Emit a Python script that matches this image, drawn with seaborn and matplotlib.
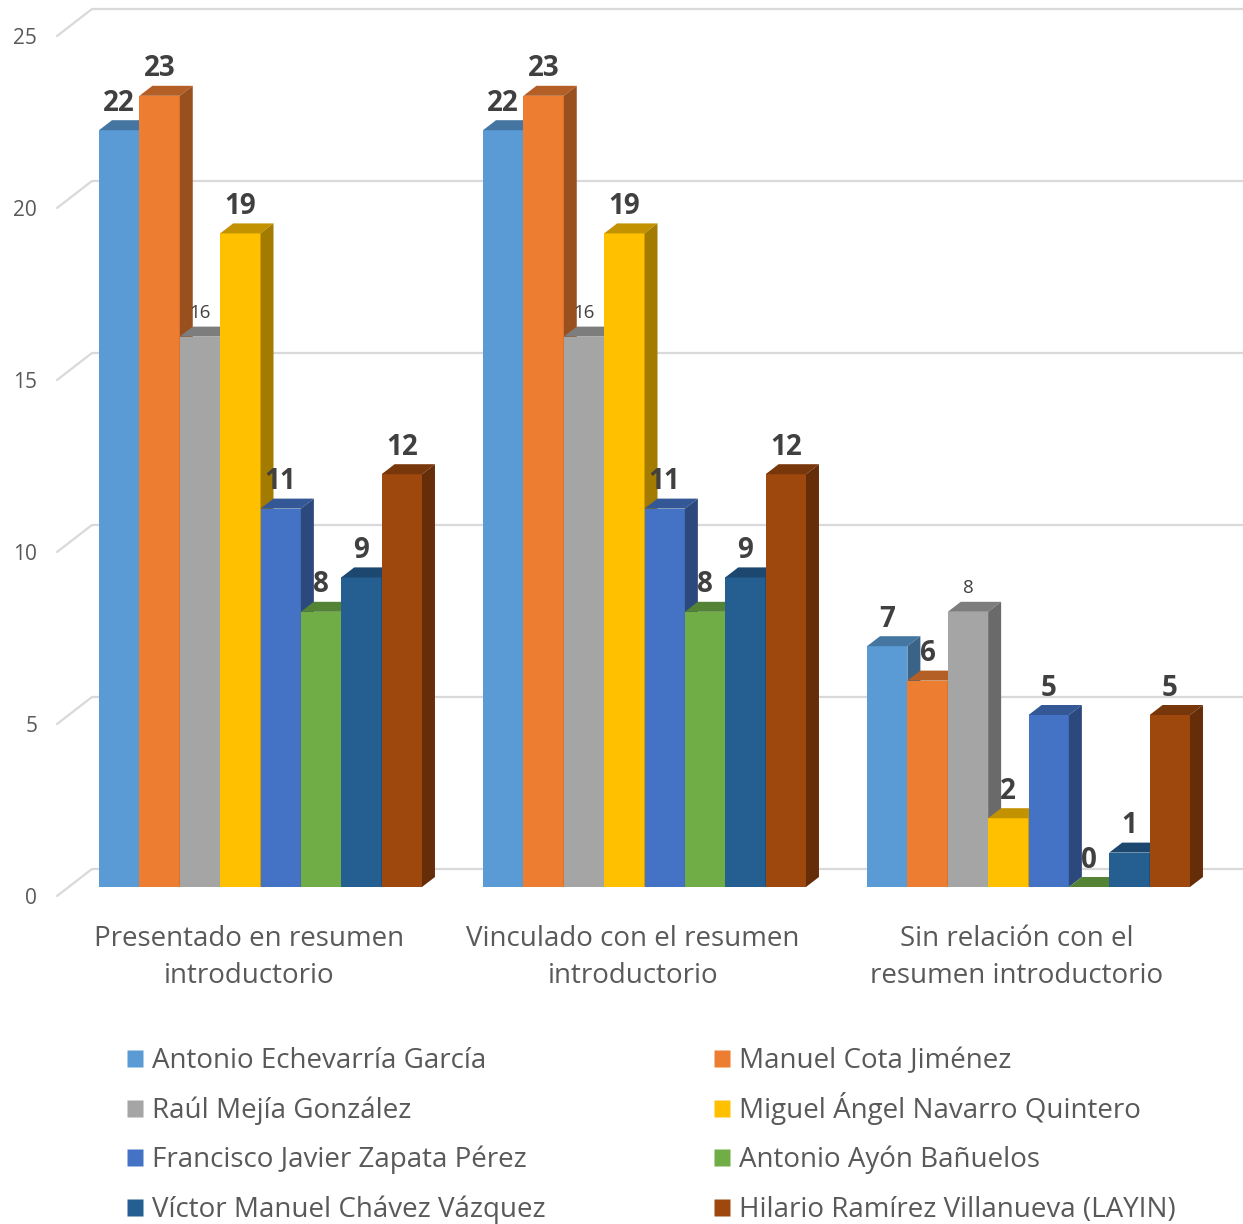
import matplotlib
matplotlib.use("Agg")
import matplotlib.pyplot as plt
import matplotlib.transforms as mtransforms
from matplotlib.patches import Polygon
from matplotlib.lines import Line2D
from matplotlib.path import Path
from matplotlib.colors import to_rgb
import pandas as pd
import seaborn as sns

# --- datos ---
categorias = ["Presentado en resumen\nintroductorio",
              "Vinculado con el resumen\nintroductorio",
              "Sin relación con el\nresumen introductorio"]
personas = ["Antonio Echevarría García", "Manuel Cota Jiménez",
            "Raúl Mejía González", "Miguel Ángel Navarro Quintero",
            "Francisco Javier Zapata Pérez", "Antonio Ayón Bañuelos",
            "Víctor Manuel Chávez Vázquez", "Hilario Ramírez Villanueva (LAYIN)"]
colores = ["#5B9BD5", "#ED7D31", "#A5A5A5", "#FFC000",
           "#4472C4", "#70AD47", "#255E91", "#9E480E"]
presentado = [22, 23, 16, 19, 11, 8, 9, 12]
vinculado = [22, 23, 16, 19, 11, 8, 9, 12]
sin_relacion = [7, 6, 8, 2, 5, 0, 1, 5]
yticks = [0, 5, 10, 15, 20, 25]

sns.set_theme(style="white")
plt.rcParams['font.family'] = ['Open Sans', 'DejaVu Sans']

filas = []
for cat, vals in zip(categorias, [presentado, vinculado, sin_relacion]):
    for p, v in zip(personas, vals):
        filas.append({"categoria": cat, "persona": p, "valor": v})
df = pd.DataFrame(filas)

DPI = 100
fig = plt.figure(figsize=(12.43, 12.24), dpi=DPI)
ax = fig.add_axes([68.5 / 1243, 337 / 1224, 1152 / 1243, 860 / 1224])

sns.barplot(data=df, x="categoria", y="valor", hue="persona",
            hue_order=personas, palette=colores, width=0.841,
            saturation=1, errorbar=None, legend=False, linewidth=0, ax=ax)

xlim = (-0.5, 2.5)
ylim = (0, 25)
# pixeles por unidad de datos
ux = 1152 / (xlim[1] - xlim[0])
uy = 860 / (ylim[1] - ylim[0])

# profundidad de las barras (efecto 3D)
ddx, ddy = 13 / ux, 10 / uy
txt = "#404040"
for k, cont in enumerate(ax.containers):
    base = to_rgb(colores[k])
    c_top = tuple(c * 0.76 for c in base)
    c_side = tuple(c * 0.64 for c in base)
    for bar in cont:
        x0 = bar.get_x()
        x1 = x0 + bar.get_width()
        h = bar.get_height()
        bar.set_zorder(3 + 3 * k)
        ax.add_patch(Polygon([(x0, h), (x1, h), (x1 + ddx, h + ddy), (x0 + ddx, h + ddy)],
                             closed=True, fc=c_top, ec="none", zorder=4 + 3 * k, clip_on=False))
        ax.add_patch(Polygon([(x1, 0), (x1, h), (x1 + ddx, h + ddy), (x1 + ddx, ddy)],
                             closed=True, fc=c_side, ec="none", zorder=4 + 3 * k, clip_on=False))
    if k == 2:
        ax.bar_label(cont, padding=10.5, fontsize=13.5, color=txt, zorder=60)
    else:
        ax.bar_label(cont, padding=9, fontsize=20, fontweight="bold", color=txt, zorder=60)

# pared del fondo con líneas de cuadrícula
gx0 = xlim[0] + 23.5 / ux
gx1 = xlim[1] + 23.5 / ux
for v in yticks:
    ax.plot([gx0, gx1], [v + 18 / uy] * 2, color="#D9D9D9", lw=1.6, zorder=0.5, clip_on=False)
    ax.plot([xlim[0] - 11.5 / ux, gx0], [v - 9 / uy, v + 18 / uy],
            color="#D9D9D9", lw=1.6, zorder=0.5, clip_on=False)

ax.set_xlim(xlim)
ax.set_ylim(ylim)
ax.set_yticks(yticks)
ax.set_xlabel("")
ax.set_ylabel("")
for s in ax.spines.values():
    s.set_visible(False)
ax.grid(False)
ax.tick_params(axis="y", length=0, pad=22.5, labelsize=15, labelcolor="#595959")
ax.tick_params(axis="x", length=0, pad=27, labelsize=20, labelcolor="#595959")

off_y = mtransforms.ScaledTranslation(0, -9 / DPI, fig.dpi_scale_trans)
for t in ax.yaxis.get_major_ticks():
    t.label1.set_transform(t.label1.get_transform() + off_y)
off_x = mtransforms.ScaledTranslation(-11.5 / DPI, 0, fig.dpi_scale_trans)
for t in ax.xaxis.get_major_ticks():
    t.label1.set_transform(t.label1.get_transform() + off_x)
for lab in ax.get_xticklabels():
    lab.set_linespacing(1.47)

# cuadrado de la leyenda, desplazado hacia abajo para centrarlo en el texto
cuadro = Path([(-1, -1.7), (1, -1.7), (1, 0.3), (-1, 0.3), (-1, -1.7)],
              [Path.MOVETO, Path.LINETO, Path.LINETO, Path.LINETO, Path.CLOSEPOLY])

# leyenda en dos columnas (una leyenda por columna)
for col, x_px in [(0, 126), (1, 713)]:
    idx = list(range(col, len(personas), 2))
    handles = [Line2D([], [], ls="none", marker=cuadro, ms=20.8, mfc=colores[i], mec="none")
               for i in idx]
    leg = fig.legend(handles, [personas[i] for i in idx], loc="upper left",
                     bbox_to_anchor=(x_px / 1243, 1 - 1038 / 1224),
                     frameon=False, fontsize=20, handlelength=0.65, handleheight=2.0,
                     handletextpad=0.3, labelspacing=0.24,
                     borderpad=0, borderaxespad=0)
    for t in leg.get_texts():
        t.set_color("#595959")

fig.savefig("out.png", dpi=DPI)
